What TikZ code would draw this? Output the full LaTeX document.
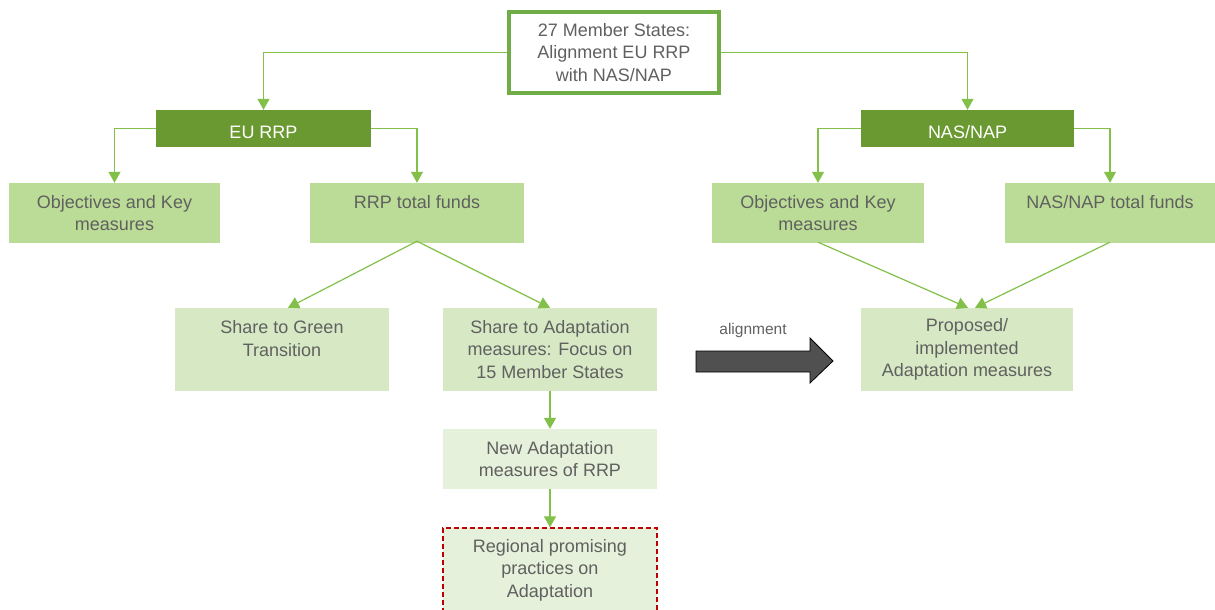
\documentclass[tikz,border=0pt]{standalone}
\usepackage{fontspec}
\setmainfont{Liberation Sans}
\usetikzlibrary{arrows.meta}
\definecolor{darkgreen}{RGB}{106,153,49}
\definecolor{midgreen}{RGB}{187,220,150}
\definecolor{lightgreen}{RGB}{214,233,196}
\definecolor{palegreen}{RGB}{229,241,218}
\definecolor{framegreen}{RGB}{112,173,71}
\definecolor{linkgreen}{RGB}{130,192,74}
\definecolor{textgray}{RGB}{96,96,96}
\definecolor{dashred}{RGB}{192,0,0}
\definecolor{arrowgray}{RGB}{80,80,80}

\tikzset{
  box/.style={rectangle, inner sep=0pt, align=center, text=textgray,
    font=\fontsize{18}{22.5}\selectfont,
    execute at begin node={\rule{0pt}{21pt}}},
  headbox/.style={box, fill=darkgreen, text=white, minimum height=37pt},
  keybox/.style={box, fill=midgreen, minimum height=60pt},
  sharebox/.style={box, fill=lightgreen, minimum height=83pt},
  newbox/.style={box, fill=palegreen, minimum width=214pt},
  link/.style={draw=linkgreen, line width=1.2pt,
    -{Triangle[width=12pt,length=11pt,fill=linkgreen]}}
}

\begin{document}
\begin{tikzpicture}[x=1pt,y=-1pt]
\useasboundingbox (0,0) rectangle (1215,610);

% top
\node[box, draw=framegreen, line width=4pt, fill=white,
  minimum width=210pt, minimum height=81pt] (top) at (614,52.5)
  {27 Member States:\\Alignment EU RRP\\with NAS/NAP};

% second level
\node[headbox, minimum width=215pt] (eurrp) at (263.5,128.5) {EU RRP};
\node[headbox, minimum width=213pt] (nasnap) at (967.5,128.5) {NAS/NAP};

% third level
\node[keybox, minimum width=211pt] (objeu) at (114.5,213) {Objectives and Key\\measures};
\node[keybox, minimum width=214pt] (rrpfunds) at (417,213) {RRP total funds\\~};
\node[keybox, minimum width=212pt] (objnas) at (818,213) {Objectives and Key\\measures};
\node[keybox, minimum width=210pt] (nasfunds) at (1110,213) {NAS/NAP total funds\\~};

% shares
\node[sharebox, minimum width=214pt] (green) at (282,349.5) {Share to Green\\Transition\\~};
\node[sharebox, minimum width=214pt] (adapt) at (550,349.5)
  {Share to Adaptation\\measures: Focus on\\15 Member States};
\node[sharebox, minimum width=212pt] (proposed) at (967,349.5)
  {Proposed/\\implemented\\Adaptation measures};

% RRP measures
\node[newbox, minimum height=60pt] (newad) at (550,459) {New Adaptation\\measures of RRP};
\node[newbox, draw=dashred, line width=1.2pt, dash pattern=on 5pt off 3pt,
  minimum height=84pt] (regional) at (550,570)
  {Regional promising\\practices on\\Adaptation};

% links
\draw[link] (top.west) -| (eurrp.north);
\draw[link] (top.east) -| (nasnap.north);
\draw[link] (eurrp.west) -| (objeu.north);
\draw[link] (eurrp.east) -| (rrpfunds.north);
\draw[link] (nasnap.west) -| (objnas.north);
\draw[link] (nasnap.east) -| (nasfunds.north);
\draw[link] ([yshift=2pt]rrpfunds.south) -- ([xshift=6pt]green.north);
\draw[link] ([yshift=2pt]rrpfunds.south) -- (adapt.north);
\draw[link] ([yshift=1pt]objnas.south) -- ([xshift=1pt]proposed.north);
\draw[link] ([yshift=1pt]nasfunds.south) -- ([xshift=8pt]proposed.north);
\draw[link] (adapt.south) -- (newad.north);
\draw[link] (newad.south) -- (regional.north);

% alignment arrow
\draw[fill=arrowgray, line width=0.8pt] (696,351) -- (810,351) -- (810,338)
  -- (833,361) -- (810,383) -- (810,372) -- (696,372) -- cycle;
\node[text=textgray, font=\fontsize{15.5}{18}\selectfont] (alignlabel) at (753,330) {alignment};
\end{tikzpicture}
\end{document}
